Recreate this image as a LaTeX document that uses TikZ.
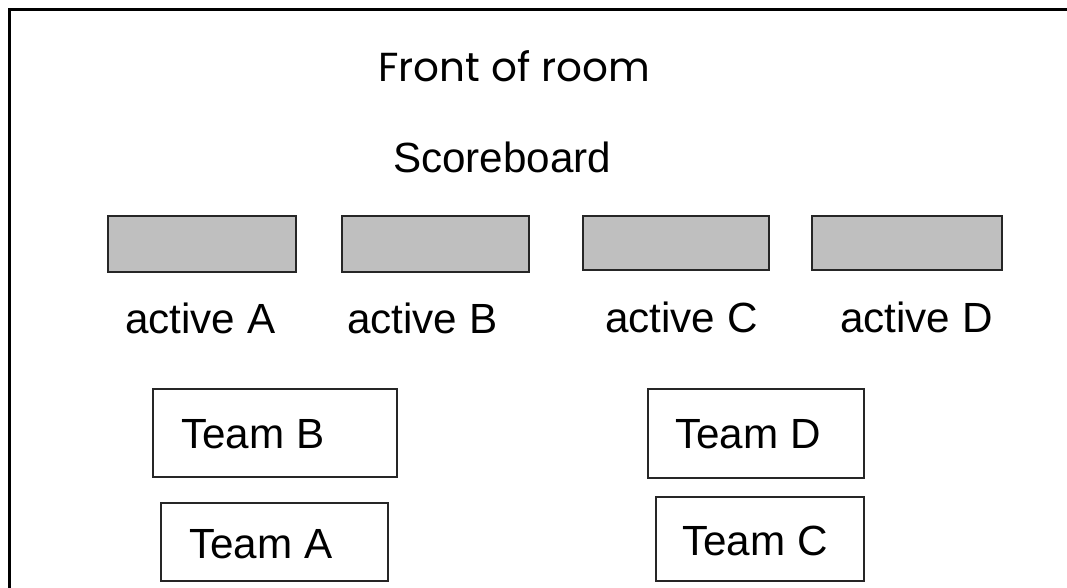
\documentclass[tikz,border=0pt]{standalone}
\usepackage{fontspec}
\setmainfont{Liberation Sans}
\newfontfamily\comicfont{Poppins}
\definecolor{boardgray}{RGB}{191,191,191}
\begin{document}
\begin{tikzpicture}[x=1pt,y=-1pt,
  frame/.style={draw=black,line width=3pt},
  board/.style={draw=black!85,line width=2.8pt,fill=boardgray},
  teambox/.style={draw=black!85,line width=2.8pt,fill=white},
  lbl/.style={anchor=base west,inner sep=0pt,font=\fontsize{42.2}{50}\selectfont},
  title/.style={anchor=base west,inner sep=0pt,font=\comicfont\fontsize{40.5}{48}\selectfont}]
\useasboundingbox (0,0) rectangle (1067,588);
\begin{scope}
\clip (0,0) rectangle (1067,588);
\draw[frame] (9,10) rectangle (1090,610);
\end{scope}
\node[title] (front) at (378,82) {Front of room};
\node[lbl] (score) at (393,172) {Scoreboard};
\draw[board] (108,216) rectangle (296,272);
\draw[board] (342,216) rectangle (529,272);
\draw[board] (583,216) rectangle (769,270);
\draw[board] (812,216) rectangle (1002,270);
\node[lbl] (actA) at (125,333) {active A};
\node[lbl] (actB) at (347,333) {active B};
\node[lbl] (actC) at (605,332) {active C};
\node[lbl] (actD) at (840,332) {active D};
\draw[teambox] (153,389) rectangle (397,477);
\draw[teambox] (648,389) rectangle (864,478);
\draw[teambox] (161,503) rectangle (388,581);
\draw[teambox] (656,497) rectangle (864,581);
\node[lbl] (teamB) at (181,448) {Team B};
\node[lbl] (teamD) at (675,448) {Team D};
\node[lbl] (teamA) at (189,558) {Team A};
\node[lbl] (teamC) at (682,555) {Team C};
\end{tikzpicture}
\end{document}
